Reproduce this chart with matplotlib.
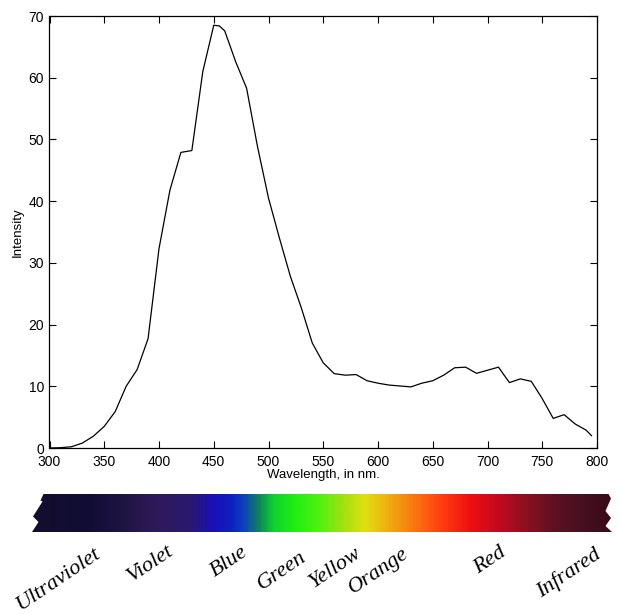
import numpy as np
import matplotlib
matplotlib.use("Agg")
import matplotlib.pyplot as plt
from matplotlib.colors import LinearSegmentedColormap
from matplotlib.patches import Polygon

# ---- data ----
wavelength = [300, 310, 320, 330, 340, 350, 360, 370, 380, 390, 400, 410, 420, 430,
              440, 450, 455, 460, 470, 480, 490, 500, 510, 520, 530, 540, 550, 560,
              570, 580, 590, 600, 610, 620, 630, 640, 650, 660, 670, 680, 690, 700,
              710, 720, 730, 740, 750, 760, 770, 780, 790, 795]
intensity = [0.0, 0.05, 0.2, 0.8, 1.9, 3.5, 5.9, 10.0, 12.7, 17.7, 32.3, 41.8, 47.9, 48.2,
             61.0, 68.5, 68.4, 67.6, 62.6, 58.3, 48.8, 40.5, 34.0, 27.8, 22.7, 17.0, 13.8, 12.05,
             11.8, 11.9, 10.9, 10.5, 10.2, 10.05, 9.9, 10.5, 10.9, 11.8, 13.0, 13.1, 12.1, 12.6,
             13.1, 10.6, 11.2, 10.8, 8.0, 4.8, 5.4, 3.9, 2.9, 2.0]
x_ticks = [300, 350, 400, 450, 500, 550, 600, 650, 700, 750, 800]
y_ticks = [0, 10, 20, 30, 40, 50, 60, 70]
color_names = ["Ultraviolet", "Violet", "Blue", "Green", "Yellow", "Orange", "Red", "Infrared"]

# ---- style ----
W, H = 621, 614
fig = plt.figure(figsize=(W / 100, H / 100), dpi=100)
sans = ["Liberation Sans", "DejaVu Sans"]

ax = fig.add_axes([49.5 / W, 1 - 448 / H, (597 - 49.5) / W, (448 - 16) / H])
ax.plot(wavelength, intensity, color="black", lw=0.9)
ax.set_xlim(300, 800)
ax.set_ylim(0, 70)
ax.set_xticks(x_ticks)
ax.set_yticks(y_ticks)
ax.tick_params(direction="in", length=5, width=0.8, top=True, right=True,
               labelsize=10)
ax.tick_params(axis="x", pad=5)
ax.tick_params(axis="y", pad=4)
for lab in ax.get_xticklabels() + ax.get_yticklabels():
    lab.set_family(sans)
for s in ax.spines.values():
    s.set_linewidth(0.9)
ax.set_xlabel("Wavelength, in nm.", family=sans, fontsize=9.5, labelpad=0)
ax.set_ylabel("Intensity", family=sans, fontsize=9.5, labelpad=3)

# overlay axes in pixel coordinates for the spectrum strip
ov = fig.add_axes([0, 0, 1, 1])
ov.set_xlim(0, W)
ov.set_ylim(H, 0)
ov.axis("off")
ov.patch.set_alpha(0)

stops = [(30, "#140f2e"), (87, "#110c35"), (125, "#201545"), (155, "#2f1a5a"),
         (190, "#2a1870"), (212, "#1a10b8"), (231, "#1020c0"), (243, "#0a40c0"),
         (258, "#108060"), (273, "#10d030"), (296, "#20f010"), (319, "#50f010"),
         (342, "#a0e010"), (365, "#e0e010"), (387, "#f0b010"), (410, "#f88010"),
         (441, "#ff4010"), (471, "#ee1010"), (501, "#c00a20"), (524, "#901020"),
         (555, "#601020"), (585, "#451020"), (612, "#3a0a18")]
x0, x1 = stops[0][0], stops[-1][0]
cmap = LinearSegmentedColormap.from_list(
    "spec", [((p - x0) / (x1 - x0), c) for p, c in stops])
grad = np.linspace(0, 1, 600)[None, :]
im = ov.imshow(grad, cmap=cmap, extent=(x0, x1, 532, 494), aspect="auto",
               interpolation="bilinear")
poly = Polygon([(43.5, 494), (608.5, 494), (611, 498.5), (605.5, 511), (611, 518),
                (605.5, 526), (612, 532), (32, 532), (38.5, 522), (33, 516.5),
                (42.5, 501.5), (40.5, 500.5)], closed=True, transform=ov.transData,
               facecolor="none", edgecolor="none")
ov.add_patch(poly)
im.set_clip_path(poly)

label_pos = [(59, 579), (151, 564), (229, 562), (282, 571), (335, 568),
             (379, 571), (490, 561), (569, 573)]
for name, (lx, ly) in zip(color_names, label_pos):
    ov.text(lx, ly, name, rotation=34, ha="center", va="center",
            family=["Liberation Serif", "DejaVu Serif"], style="italic",
            fontsize=16)

fig.savefig("out.png", dpi=100)
